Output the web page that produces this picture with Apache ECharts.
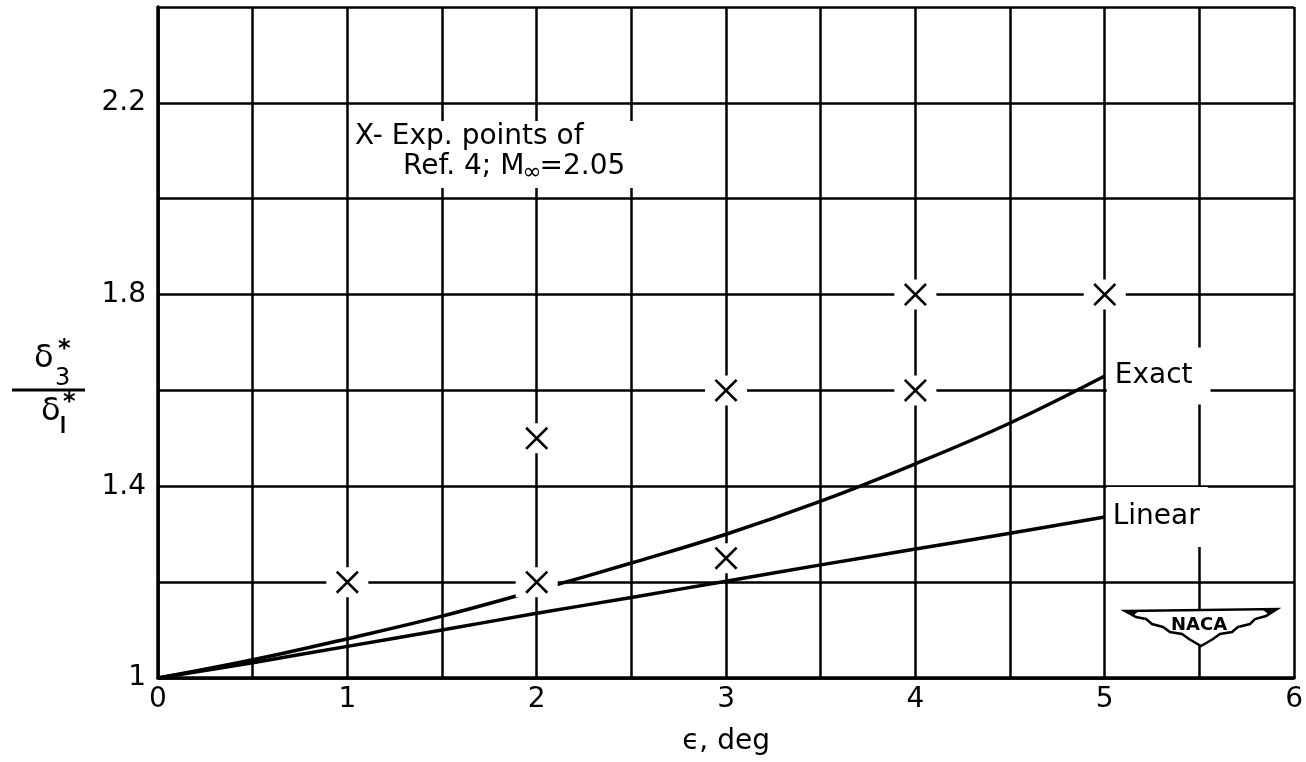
<!DOCTYPE html>
<html>
<head>
<meta charset="utf-8">
<script src="https://cdn.jsdelivr.net/npm/echarts@6/dist/echarts.min.js"></script>
<style>
html,body{margin:0;padding:0;background:#fff;}
#chart{width:1306px;height:762px;}
</style>
</head>
<body>
<div id="chart"></div>
<script>
// ---- data ----
const exactX = [0, 0.5, 1, 1.5, 2, 2.5, 3, 3.5, 4, 4.5, 5];
const exactY = [1.0, 1.038, 1.082, 1.129, 1.183, 1.240, 1.30, 1.369, 1.447, 1.532, 1.63];
const linearX = [0, 0.5, 1, 1.5, 2, 2.5, 3, 3.5, 4, 4.5, 5];
const linearY = [1.0, 1.032, 1.066, 1.100, 1.135, 1.168, 1.202, 1.236, 1.269, 1.302, 1.336];
const expX = [1, 2, 2, 3, 3, 4, 4, 5];
const expY = [1.2, 1.5, 1.2, 1.6, 1.25, 1.8, 1.6, 1.8];
const xTickLabels = ['0', '1', '2', '3', '4', '5', '6'];
const yTickLabels = ['1', '1.4', '1.8', '2.2'];

const FONT = 'DejaVu Sans';
const pair = (xs, ys) => xs.map((x, i) => [x, ys[i]]);
const xMark = 'path://M0,1.6L1.6,0L10,8.4L18.4,0L20,1.6L11.6,10L20,18.4L18.4,20L10,11.6L1.6,20L0,18.4L8.4,10Z';

// measure the width of the text before the subscript
const mctx = document.createElement('canvas').getContext('2d');
mctx.font = '28px "DejaVu Sans"';
const refLine = 'Ref. 4; M';
const refW = mctx.measureText(refLine).width;
mctx.font = '23px "DejaVu Sans"';
const infW = mctx.measureText('∞').width;
const line2Left = 403;

const chart = echarts.init(document.getElementById('chart'));
chart.setOption({
  animation: false,
  backgroundColor: '#fff',
  grid: {left: 158, right: 8, top: 7, bottom: 84},
  xAxis: {
    type: 'value', min: 0, max: 6, interval: 0.5,
    axisLine: {show: true, lineStyle: {color: '#000', width: 3.5}},
    axisTick: {show: false},
    splitLine: {show: true, lineStyle: {color: '#000', width: 2.5}},
    axisLabel: {
      color: '#000', fontFamily: FONT, fontSize: 28, margin: 8,
      formatter: v => (Math.abs(v - Math.round(v)) < 1e-6 ? xTickLabels[Math.round(v)] : '')
    },
    name: 'ϵ, deg', nameLocation: 'middle', nameGap: 50,
    nameTextStyle: {color: '#000', fontFamily: FONT, fontSize: 28}
  },
  yAxis: {
    type: 'value', min: 1, max: 2.4, interval: 0.2,
    axisLine: {show: true, lineStyle: {color: '#000', width: 3.5}},
    axisTick: {show: false},
    splitLine: {show: true, lineStyle: {color: '#000', width: 2.5}},
    axisLabel: {
      color: '#000', fontFamily: FONT, fontSize: 28, margin: 12,
      formatter: v => {
        const s = String(Math.round(v * 10) / 10);
        return yTickLabels.indexOf(s) >= 0 ? s : '';
      }
    }
  },
  series: [
    {
      name: 'Exact', type: 'line', smooth: 0.4, showSymbol: false, z: 2,
      data: pair(exactX, exactY),
      lineStyle: {color: '#000', width: 3.5},
      endLabel: {
        show: true, formatter: 'Exact', color: '#000', fontFamily: FONT, fontSize: 28,
        distance: 2, backgroundColor: '#fff', padding: [12, 18, 17, 8]
      }
    },
    {
      name: 'Linear', type: 'line', smooth: 0.4, showSymbol: false, z: 2,
      data: pair(linearX, linearY),
      lineStyle: {color: '#000', width: 3.5},
      endLabel: {
        show: true, formatter: 'Linear', color: '#000', fontFamily: FONT, fontSize: 28,
        distance: 2, backgroundColor: '#fff', padding: [6, 8, 26, 6]
      }
    },
    {
      name: 'halo', type: 'scatter', z: 3, silent: true,
      data: pair(expX, expY),
      symbol: 'rect', symbolSize: [42, 30],
      itemStyle: {color: '#fff', opacity: 1}
    },
    {
      name: 'Exp', type: 'scatter', z: 4,
      data: pair(expX, expY),
      symbol: xMark, symbolSize: 23,
      itemStyle: {color: '#000', opacity: 1}
    }
  ],
  graphic: [
    // legend note
    {type: 'rect', z: 100, shape: {x: 351, y: 121, width: 292, height: 67}, style: {fill: '#fff'}},
    {type: 'text', z: 101, left: 355, top: 123,
      style: {text: 'X- Exp. points of', fill: '#000', fontSize: 28, fontFamily: FONT}},
    {type: 'text', z: 101, left: line2Left, top: 153,
      style: {text: refLine, fill: '#000', fontSize: 28, fontFamily: FONT}},
    {type: 'text', z: 102, left: line2Left + refW - 2, top: 162,
      style: {text: '∞', fill: '#000', fontSize: 23, fontFamily: FONT}},
    {type: 'text', z: 101, left: line2Left + refW + infW - 4, top: 153,
      style: {text: '=2.05', fill: '#000', fontSize: 28, fontFamily: FONT}},
    // y-axis fraction label
    {type: 'text', z: 101, left: 34, top: 343, style: {text: 'δ', fill: '#000', fontSize: 32, fontFamily: FONT}},
    {type: 'text', z: 101, left: 58, top: 338, style: {text: '*', fill: '#000', fontSize: 24, fontWeight: 'bold', fontFamily: FONT}},
    {type: 'text', z: 101, left: 55, top: 367, style: {text: '3', fill: '#000', fontSize: 24, fontFamily: FONT}},
    {type: 'line', z: 101, shape: {x1: 12, y1: 390, x2: 85, y2: 390}, style: {stroke: '#000', lineWidth: 3}},
    {type: 'text', z: 101, left: 41, top: 396, style: {text: 'δ', fill: '#000', fontSize: 32, fontFamily: FONT}},
    {type: 'text', z: 101, left: 63, top: 391, style: {text: '*', fill: '#000', fontSize: 24, fontWeight: 'bold', fontFamily: FONT}},
    {type: 'line', z: 101, shape: {x1: 63, y1: 416, x2: 63, y2: 433}, style: {stroke: '#000', lineWidth: 3}},
    // NACA logo
    {type: 'polygon', z: 101, shape: {points: [
      [1125, 611], [1277, 609], [1266, 616], [1255, 619], [1250, 624], [1238, 627], [1232, 632],
      [1220, 634], [1213, 639], [1201, 646], [1189, 639], [1182, 634], [1170, 632], [1163, 627],
      [1152, 624], [1146, 619], [1136, 617]
    ]}, style: {fill: '#fff', stroke: '#000', lineWidth: 2.5}},
    {type: 'polygon', z: 102, shape: {points: [[1125, 611], [1140, 610], [1134, 615]]}, style: {fill: '#000'}},
    {type: 'polygon', z: 102, shape: {points: [[1277, 609], [1262, 609], [1268, 614]]}, style: {fill: '#000'}},
    {type: 'text', z: 102, left: 1171, top: 616,
      style: {text: 'NACA', fill: '#000', fontSize: 18, fontWeight: 'bold', fontFamily: FONT}}
  ]
});
</script>
</body>
</html>
